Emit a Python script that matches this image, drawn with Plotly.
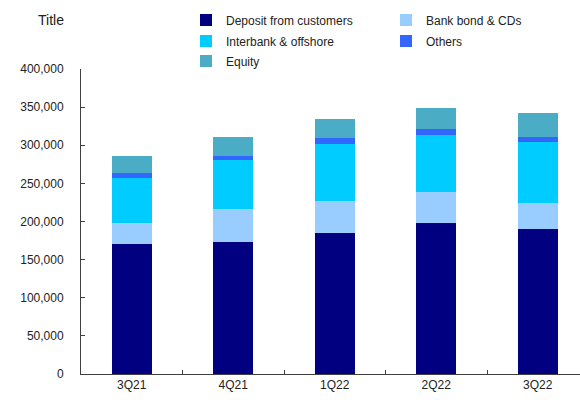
import plotly.graph_objects as go

categories = ["3Q21", "4Q21", "1Q22", "2Q22", "3Q22"]
deposit = [171000, 173000, 184500, 198000, 189700]
bank_bond = [27000, 43400, 42400, 40300, 35000]
interbank = [58600, 63900, 75200, 75600, 79200]
others = [6900, 5600, 7000, 7000, 6900]
equity = [22300, 24900, 24900, 28400, 31900]

series = [
    ("Deposit from customers", deposit, "#000080"),
    ("Bank bond & CDs", bank_bond, "#99CCFF"),
    ("Interbank & offshore", interbank, "#00CCFF"),
    ("Others", others, "#3366FF"),
    ("Equity", equity, "#4BACC6"),
]

W, H = 580, 400
# legend positions (container px): (x of legend box, y center)
leg_pos = [(186, 20), (386, 20), (186, 41), (386, 41), (186, 61)]

fig = go.Figure()
for i, (name, vals, color) in enumerate(series):
    lg = "legend" if i == 0 else f"legend{i+1}"
    fig.add_trace(go.Bar(
        x=categories, y=vals, name=name, legend=lg,
        marker=dict(color=color, line=dict(width=0)),
        width=0.394,
    ))

font = dict(family="Liberation Sans, Arial, sans-serif", size=12, color="#222222")
layout_legends = {}
for i, (px, py) in enumerate(leg_pos):
    key = "legend" if i == 0 else f"legend{i+1}"
    layout_legends[key] = dict(
        x=px / W, y=1 - py / H, xref="container", yref="container",
        xanchor="left", yanchor="middle", bgcolor="rgba(0,0,0,0)",
        font=font, itemwidth=30, borderwidth=0,
    )

fig.update_layout(
    width=W, height=H,
    margin=dict(l=81, r=0, t=68.5, b=25.5, autoexpand=False),
    paper_bgcolor="white", plot_bgcolor="white",
    barmode="stack",
    font=font,
    showlegend=True,
    title=dict(text="Title", x=38 / W, xanchor="left", y=1 - 20 / H, yanchor="middle",
               xref="container", yref="container",
               font=dict(family="Liberation Sans, Arial, sans-serif", size=14, color="#222222")),
    xaxis=dict(
        type="category", range=[-0.5, 4.416],
        showline=True, linecolor="#404040", linewidth=1,
        ticks="inside", ticklen=4, tickcolor="#404040", tickson="boundaries",
        showgrid=False, zeroline=False, tickfont=font, automargin=False,
    ),
    yaxis=dict(
        range=[0, 400000], dtick=50000, tickformat=",",
        showline=True, linecolor="#404040", linewidth=1,
        ticks="inside", ticklen=4, tickcolor="#404040",
        showgrid=False, zeroline=False, tickfont=font, automargin=False,
        ticklabelstandoff=14,
    ),
    **layout_legends,
)

fig.write_html("out.html")
